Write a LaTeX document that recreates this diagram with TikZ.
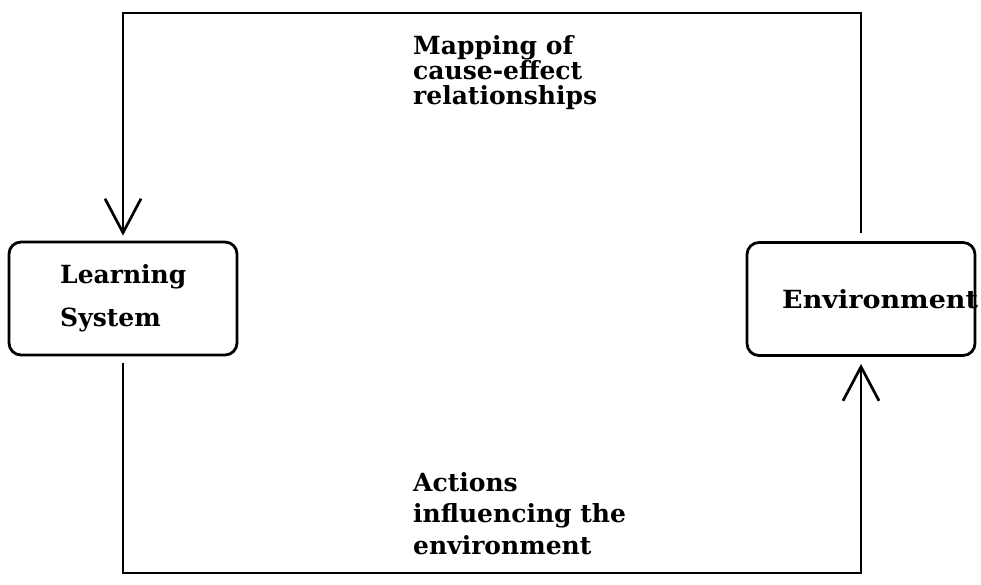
\documentclass[tikz,border=0pt]{standalone}
\usepackage{fontspec}
\setmainfont{DejaVu Serif}
\usetikzlibrary{arrows.meta}
\newcommand\mytightlines{\lineskiplimit=-100pt\relax}
\begin{document}
\begin{tikzpicture}[x=1pt,y=-1pt,
  box/.style={draw, line width=2.8pt, rounded corners=12pt, minimum width=228pt, minimum height=113pt, inner sep=0pt},
  wire/.style={line width=2.7pt},
  tipped/.style={-{Straight Barb[length=34pt,width=36pt]}},
  lbl/.style={font={\bfseries\fontsize{25}{#1}\selectfont\mytightlines}, align=left, inner sep=0pt, anchor=base west},
  lbl/.default=26]
\useasboundingbox (0,0) rectangle (981,584);
\node[box] (ls) at (123,298.5) {};
\node[box] (env) at (861,299) {};
\coordinate (tl) at (123,13);
\coordinate (br) at (861,573);
\node[lbl=43] (lstext) at (60,326) {Learning\\System};
\node[lbl] (envtext) at (782,308) {\scalebox{1.08}[1]{Environment}};
\node[lbl=25] (maptext) at (413,104) {Mapping of\\cause-effect\\relationships};
\node[lbl=31.5] (acttext) at (413,554) {Actions\\influencing the\\environment};
\draw[wire,tipped] ([yshift=8pt]env.north) |- (tl) -- ([yshift=5pt]ls.north);
\draw[wire,tipped] ([yshift=-7pt]ls.south) |- (br) -- ([yshift=-7pt]env.south);
\end{tikzpicture}
\end{document}
